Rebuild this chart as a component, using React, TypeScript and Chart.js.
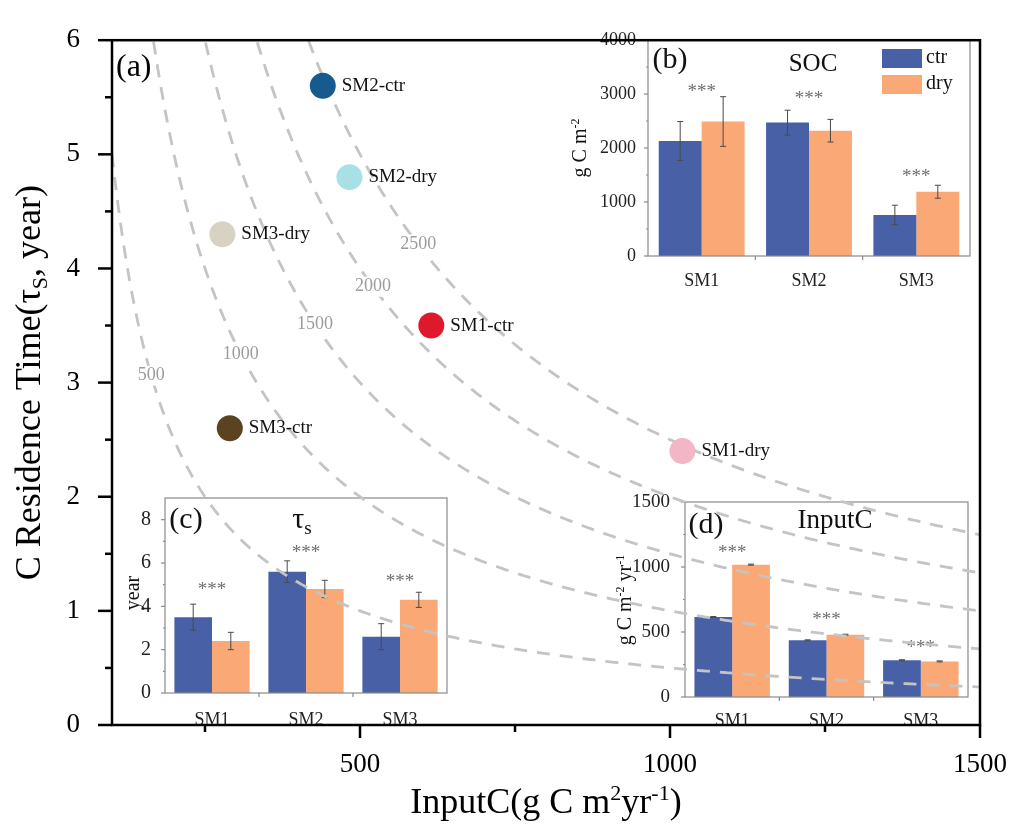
import React, { useEffect, useRef } from 'react';
import { Chart, registerables } from 'chart.js';

Chart.register(...registerables);

const SERIF = '"Liberation Serif", "Times New Roman", "DejaVu Serif", serif';
const f = (size: number) => `${size}px ${SERIF}`;

// ---------- panel (a): scatter ----------
const siteLabels = ['SM2-ctr', 'SM2-dry', 'SM3-dry', 'SM1-ctr', 'SM3-ctr', 'SM1-dry'];
const siteInputC = [440, 483, 278, 615, 290, 1020];
const siteTau = [5.6, 4.8, 4.3, 3.5, 2.6, 2.4];
const siteColors = ['#175a8e', '#a8e1e5', '#d8d2c2', '#e0182b', '#5b4322', '#f4b5c7'];

const contourLevels = [500, 1000, 1500, 2000, 2500];
const contourLabelTau = [3.06, 3.25, 3.51, 3.84, 4.21];

const mainXTicks = [500, 1000, 1500];
const mainXMinor = [250, 750, 1250];
const mainYTicks = [0, 1, 2, 3, 4, 5, 6];
const mainYMinor = [0.5, 1.5, 2.5, 3.5, 4.5, 5.5];

// ---------- insets ----------
const groups = ['SM1', 'SM2', 'SM3'];
const seriesNames = ['ctr', 'dry'];
const CTR_COLOR = '#4860a6';
const DRY_COLOR = '#faa875';

const socCtr = [2130, 2470, 760];
const socCtrErr = [360, 230, 180];
const socDry = [2490, 2320, 1190];
const socDryErr = [460, 210, 120];
const socStars = [3130, 3000, 1560];
const socTicks = [0, 1000, 2000, 3000, 4000];
const socMinor = [500, 1500, 2500, 3500];

const tauCtr = [3.5, 5.6, 2.6];
const tauCtrErr = [0.6, 0.5, 0.6];
const tauDry = [2.4, 4.8, 4.3];
const tauDryErr = [0.4, 0.4, 0.35];
const tauStars = [5.0, 6.7, 5.35];
const tauTicks = [0, 2, 4, 6, 8];
const tauMinor = [1, 3, 5, 7];

const inCtr = [615, 436, 283];
const inCtrErr = [4, 4, 4];
const inDry = [1018, 479, 274];
const inDryErr = [4, 4, 4];
const inStars = [1150, 628, 415];
const inTicks = [0, 500, 1000, 1500];
const inMinor = [250, 750, 1250];

type Seg = { t: string; s?: 'sup' | 'sub' };

function drawRich(ctx: CanvasRenderingContext2D, segs: Seg[], x: number, y: number, size: number,
  align: 'center' | 'left' = 'center', rotate = false, color = '#000') {
  ctx.save();
  ctx.translate(x, y);
  if (rotate) ctx.rotate(-Math.PI / 2);
  ctx.fillStyle = color;
  ctx.textBaseline = 'alphabetic';
  ctx.textAlign = 'left';
  const small = Math.round(size * 0.62);
  let total = 0;
  const widths = segs.map((s) => {
    ctx.font = f(s.s ? small : size);
    const w = ctx.measureText(s.t).width;
    total += w;
    return w;
  });
  let cx = align === 'center' ? -total / 2 : 0;
  segs.forEach((s, i) => {
    ctx.font = f(s.s ? small : size);
    const dy = s.s === 'sup' ? -size * 0.36 : s.s === 'sub' ? size * 0.2 : 0;
    ctx.fillText(s.t, cx, dy);
    cx += widths[i];
  });
  ctx.restore();
}

function line(ctx: CanvasRenderingContext2D, x1: number, y1: number, x2: number, y2: number) {
  ctx.beginPath();
  ctx.moveTo(x1, y1);
  ctx.lineTo(x2, y2);
  ctx.stroke();
}

const plain = (v: any) => String(v);

const MAIN_AREA = { l: 112, t: 24, r: 983, b: 725 };

const mainPlugin = {
  id: 'mainDeco',
  beforeDatasetsDraw(chart: any) {
    const { ctx, chartArea: a } = chart;
    const x = chart.scales.x;
    const y = chart.scales.y;
    ctx.save();
    ctx.beginPath();
    ctx.rect(a.left, a.top, a.right - a.left, a.bottom - a.top);
    ctx.clip();
    ctx.strokeStyle = '#c4c4c4';
    ctx.lineWidth = 2.8;
    ctx.setLineDash([13, 10]);
    contourLevels.forEach((c) => {
      ctx.beginPath();
      let started = false;
      for (let px = a.left; px <= a.right; px += 2) {
        const xv = x.getValueForPixel(px);
        const py = y.getPixelForValue(c / xv);
        if (!started) { ctx.moveTo(px, py); started = true; } else ctx.lineTo(px, py);
      }
      ctx.stroke();
    });
    ctx.setLineDash([]);
    ctx.font = f(18);
    ctx.textAlign = 'center';
    ctx.textBaseline = 'middle';
    contourLevels.forEach((c, i) => {
      const t = contourLabelTau[i];
      const px = x.getPixelForValue(c / t);
      const py = y.getPixelForValue(t);
      const w = ctx.measureText(String(c)).width;
      ctx.fillStyle = '#fff';
      ctx.fillRect(px - w / 2 - 3, py - 10, w + 6, 20);
      ctx.fillStyle = '#9c9c9c';
      ctx.fillText(String(c), px, py);
    });
    ctx.restore();
  },
  afterDatasetsDraw(chart: any) {
    const { ctx } = chart;
    const meta = chart.getDatasetMeta(0);
    ctx.save();
    ctx.font = f(19);
    ctx.fillStyle = '#111';
    ctx.textAlign = 'left';
    ctx.textBaseline = 'middle';
    meta.data.forEach((pt: any, i: number) => {
      ctx.fillText(siteLabels[i], pt.x + 19, pt.y);
    });
    ctx.restore();
  },
  afterDraw(chart: any) {
    const { ctx, chartArea: a } = chart;
    const x = chart.scales.x;
    const y = chart.scales.y;
    ctx.save();
    ctx.strokeStyle = '#000';
    ctx.lineWidth = 2.5;
    ctx.strokeRect(a.left, a.top, a.right - a.left, a.bottom - a.top);
    mainYTicks.forEach((v) => { const p = y.getPixelForValue(v); line(ctx, a.left - 14, p, a.left, p); });
    mainYMinor.forEach((v) => { const p = y.getPixelForValue(v); line(ctx, a.left - 7, p, a.left, p); });
    mainXTicks.forEach((v) => { const p = x.getPixelForValue(v); line(ctx, p, a.bottom, p, a.bottom + 13); });
    mainXMinor.forEach((v) => { const p = x.getPixelForValue(v); line(ctx, p, a.bottom, p, a.bottom + 7); });
    ctx.fillStyle = '#000';
    ctx.font = f(32);
    ctx.textAlign = 'left';
    ctx.textBaseline = 'middle';
    ctx.fillText('(a)', a.left + 4, a.top + 27);
    drawRich(ctx, [{ t: 'C Residence Time(τ' }, { t: 'S', s: 'sub' }, { t: ', year)' }], 40, (a.top + a.bottom) / 2, 36, 'center', true);
    drawRich(ctx, [{ t: 'InputC(g C m' }, { t: '2', s: 'sup' }, { t: 'yr' }, { t: '-1', s: 'sup' }, { t: ')' }], (a.left + a.right) / 2, 813, 36, 'center');
    ctx.restore();
  },
};

function mainConfig(): any {
  return {
    type: 'scatter',
    data: {
      datasets: [{
        data: siteInputC.map((v, i) => ({ x: v, y: siteTau[i] })),
        pointBackgroundColor: siteColors,
        backgroundColor: siteColors,
        pointBorderWidth: 0,
        borderWidth: 0,
        pointRadius: 13,
        pointHoverRadius: 13,
      }],
    },
    options: {
      animation: false,
      responsive: false,
      events: [],
      layout: { padding: { left: 0, top: MAIN_AREA.t, right: 1023 - MAIN_AREA.r, bottom: 0 } },
      plugins: { legend: { display: false }, tooltip: { enabled: false } },
      scales: {
        x: {
          type: 'linear', min: 100, max: 1500,
          grid: { display: false }, border: { display: false },
          afterBuildTicks: (s: any) => { s.ticks = mainXTicks.map((v) => ({ value: v })); },
          afterFit: (s: any) => { s.height = 834 - MAIN_AREA.b; },
          ticks: { font: { family: SERIF, size: 27 }, color: '#000', padding: 16, maxRotation: 0, autoSkip: false, callback: plain },
        },
        y: {
          type: 'linear', min: 0, max: 6,
          grid: { display: false }, border: { display: false },
          afterBuildTicks: (s: any) => { s.ticks = mainYTicks.map((v) => ({ value: v })); },
          afterFit: (s: any) => { s.width = MAIN_AREA.l; },
          ticks: { font: { family: SERIF, size: 27 }, color: '#000', padding: 24, callback: plain },
        },
      },
    },
    plugins: [mainPlugin],
  };
}

type InsetSpec = {
  box: number[]; area: number[];
  ctr: number[]; ctrErr: number[]; dry: number[]; dryErr: number[]; stars: number[];
  yMax: number; yTicks: number[]; yMinor: number[];
  tickSize: number; tickPad: number; catPad: number;
  deco: (ctx: CanvasRenderingContext2D) => void;
};

function insetPlugin(spec: InsetSpec) {
  const [bx, by] = spec.box;
  return {
    id: 'insetDeco',
    afterDatasetsDraw(chart: any) {
      const { ctx } = chart;
      const xs = chart.scales.x;
      const ys = chart.scales.y;
      ctx.save();
      ctx.strokeStyle = '#4a4a4a';
      ctx.lineWidth = 1;
      const sets: [number[], number[]][] = [[spec.ctr, spec.ctrErr], [spec.dry, spec.dryErr]];
      sets.forEach(([vals, errs], di) => {
        const meta = chart.getDatasetMeta(di);
        meta.data.forEach((el: any, i: number) => {
          const top = ys.getPixelForValue(vals[i] + errs[i]);
          const bot = ys.getPixelForValue(vals[i] - errs[i]);
          line(ctx, el.x, top, el.x, bot);
          line(ctx, el.x - 3, top, el.x + 3, top);
          line(ctx, el.x - 3, bot, el.x + 3, bot);
        });
      });
      ctx.fillStyle = '#6e6e6e';
      ctx.font = f(19);
      ctx.textAlign = 'center';
      ctx.textBaseline = 'alphabetic';
      spec.stars.forEach((v, i) => {
        ctx.fillText('***', xs.getPixelForValue(i), ys.getPixelForValue(v) + 10);
      });
      ctx.restore();
    },
    afterDraw(chart: any) {
      const { ctx, chartArea: a } = chart;
      const xs = chart.scales.x;
      const ys = chart.scales.y;
      ctx.save();
      ctx.strokeStyle = '#8a8a8a';
      ctx.lineWidth = 1.2;
      ctx.strokeRect(a.left, a.top, a.right - a.left, a.bottom - a.top);
      spec.yTicks.forEach((v) => { const p = ys.getPixelForValue(v); line(ctx, a.left - 4, p, a.left, p); });
      spec.yMinor.forEach((v) => { const p = ys.getPixelForValue(v); line(ctx, a.left - 2, p, a.left, p); });
      [0.5, 1.5].forEach((v) => { const p = xs.getPixelForValue(v); line(ctx, p, a.bottom, p, a.bottom + 4); });
      ctx.translate(-bx, -by);
      spec.deco(ctx);
      ctx.restore();
    },
  };
}

function insetConfig(spec: InsetSpec): any {
  const [bx, by, bw, bh] = spec.box;
  const [l, t, r, b] = spec.area;
  return {
    type: 'bar',
    data: {
      labels: groups,
      datasets: [
        { label: seriesNames[0], data: spec.ctr, backgroundColor: CTR_COLOR, categoryPercentage: 0.8, barPercentage: 1, borderWidth: 0 },
        { label: seriesNames[1], data: spec.dry, backgroundColor: DRY_COLOR, categoryPercentage: 0.8, barPercentage: 1, borderWidth: 0 },
      ],
    },
    options: {
      animation: false,
      responsive: false,
      events: [],
      layout: { padding: { left: 0, top: t - by, right: bx + bw - r, bottom: 0 } },
      plugins: { legend: { display: false }, tooltip: { enabled: false } },
      scales: {
        x: {
          grid: { display: false }, border: { display: false },
          afterFit: (s: any) => { s.height = by + bh - b; },
          ticks: { font: { family: SERIF, size: 18 }, color: '#222', padding: spec.catPad, maxRotation: 0 },
        },
        y: {
          min: 0, max: spec.yMax,
          grid: { display: false }, border: { display: false },
          afterBuildTicks: (s: any) => { s.ticks = spec.yTicks.map((v) => ({ value: v })); },
          afterFit: (s: any) => { s.width = l - bx; },
          ticks: { font: { family: SERIF, size: spec.tickSize }, color: '#222', padding: spec.tickPad, callback: plain },
        },
      },
    },
    plugins: [insetPlugin(spec)],
  };
}

const specB: InsetSpec = {
  box: [545, 24, 440, 285], area: [648, 40, 970, 256],
  ctr: socCtr, ctrErr: socCtrErr, dry: socDry, dryErr: socDryErr, stars: socStars,
  yMax: 4000, yTicks: socTicks, yMinor: socMinor, tickSize: 18, tickPad: 4, catPad: 6,
  deco: (ctx) => {
    ctx.fillStyle = '#111';
    ctx.textBaseline = 'middle';
    ctx.textAlign = 'center';
    ctx.font = f(30);
    ctx.fillText('(b)', 670, 60);
    ctx.font = f(25);
    ctx.fillText('SOC', 813, 64);
    ctx.fillStyle = CTR_COLOR;
    ctx.fillRect(882, 49, 40, 19);
    ctx.fillStyle = DRY_COLOR;
    ctx.fillRect(882, 75, 40, 19);
    ctx.fillStyle = '#111';
    ctx.textAlign = 'left';
    ctx.font = f(20);
    ctx.fillText(seriesNames[0], 926, 58);
    ctx.fillText(seriesNames[1], 926, 84);
    drawRich(ctx, [{ t: 'g C m' }, { t: '-2', s: 'sup' }], 586, 148, 20, 'center', true, '#111');
  },
};

const specC: InsetSpec = {
  box: [100, 480, 360, 255], area: [165, 498, 447, 693],
  ctr: tauCtr, ctrErr: tauCtrErr, dry: tauDry, dryErr: tauDryErr, stars: tauStars,
  yMax: 9, yTicks: tauTicks, yMinor: tauMinor, tickSize: 20, tickPad: 6, catPad: 8,
  deco: (ctx) => {
    ctx.fillStyle = '#111';
    ctx.textBaseline = 'middle';
    ctx.textAlign = 'center';
    ctx.font = f(30);
    ctx.fillText('(c)', 186, 520);
    drawRich(ctx, [{ t: 'τ' }, { t: 's', s: 'sub' }], 302, 528, 30, 'center', false, '#111');
    drawRich(ctx, [{ t: 'year' }], 139, 593, 20, 'center', true, '#111');
  },
};

const specD: InsetSpec = {
  box: [590, 480, 392, 255], area: [685, 502, 968, 697],
  ctr: inCtr, ctrErr: inCtrErr, dry: inDry, dryErr: inDryErr, stars: inStars,
  yMax: 1500, yTicks: inTicks, yMinor: inMinor, tickSize: 19, tickPad: 7, catPad: 5,
  deco: (ctx) => {
    ctx.fillStyle = '#111';
    ctx.textBaseline = 'middle';
    ctx.textAlign = 'center';
    ctx.font = f(30);
    ctx.fillText('(d)', 706, 525);
    ctx.font = f(27);
    ctx.fillText('InputC', 835, 521);
    drawRich(ctx, [{ t: 'g C m' }, { t: '-2', s: 'sup' }, { t: ' yr' }, { t: '-1', s: 'sup' }], 631, 600, 20, 'center', true, '#111');
  },
};

const boxStyle = (box: number[]): React.CSSProperties => ({
  position: 'absolute', left: box[0], top: box[1], width: box[2], height: box[3],
});

export default function App() {
  const mainRef = useRef<HTMLCanvasElement>(null);
  const bRef = useRef<HTMLCanvasElement>(null);
  const cRef = useRef<HTMLCanvasElement>(null);
  const dRef = useRef<HTMLCanvasElement>(null);

  useEffect(() => {
    const charts = [
      new Chart(bRef.current as HTMLCanvasElement, insetConfig(specB)),
      new Chart(cRef.current as HTMLCanvasElement, insetConfig(specC)),
      new Chart(dRef.current as HTMLCanvasElement, insetConfig(specD)),
      new Chart(mainRef.current as HTMLCanvasElement, mainConfig()),
    ];
    return () => charts.forEach((c) => c.destroy());
  }, []);

  return (
    <div style={{ position: 'absolute', left: 0, top: 0, width: 1023, height: 834, background: '#fff', overflow: 'hidden' }}>
      <canvas ref={bRef} width={specB.box[2]} height={specB.box[3]} style={boxStyle(specB.box)} />
      <canvas ref={cRef} width={specC.box[2]} height={specC.box[3]} style={boxStyle(specC.box)} />
      <canvas ref={dRef} width={specD.box[2]} height={specD.box[3]} style={boxStyle(specD.box)} />
      <canvas ref={mainRef} width={1023} height={834} style={{ position: 'absolute', left: 0, top: 0, width: 1023, height: 834 }} />
    </div>
  );
}
